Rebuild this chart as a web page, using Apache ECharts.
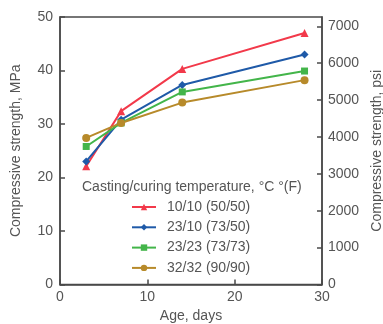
<!DOCTYPE html>
<html><head><meta charset="utf-8">
<script src="https://cdn.jsdelivr.net/npm/echarts@6/dist/echarts.min.js"></script>
<style>html,body{margin:0;padding:0;background:#fff}#c{width:383px;height:324px}</style>
</head><body><div id="c"></div>
<script>
const ages = [3, 7, 14, 28];
const s1010 = [22.1, 32.4, 40.3, 47.0];
const s2310 = [23.0, 30.8, 37.3, 43.0];
const s2323 = [25.8, 30.2, 36.0, 39.9];
const s3232 = [27.4, 30.2, 34.0, 38.2];
const names = ['10/10 (50/50)', '23/10 (73/50)', '23/23 (73/73)', '32/32 (90/90)'];
const colors = ['#f2394a', '#1f5aa8', '#43b54a', '#b78a2a'];
const symbols = ['triangle', 'diamond', 'rect', 'circle'];
const symbolSizes = [8, 8, 7, 8];
const legendTitle = 'Casting/curing temperature, °C °(F)';
const MPA_TO_PSI = 145.0377;

const FONT = 'Liberation Sans, Arial, sans-serif';
const TXT = '#555';
const AX = '#4a4a4a';
const allData = [s1010, s2310, s2323, s3232];

const chart = echarts.init(document.getElementById('c'), null, {renderer: 'canvas'});
chart.setOption({
  animation: false,
  backgroundColor: '#fff',
  textStyle: {fontFamily: FONT},
  grid: {left: 60, right: 61, top: 17, bottom: 39.5, show: true, borderColor: AX, borderWidth: 1.5,
    outerBoundsMode: 'none', containLabel: false},
  xAxis: {
    type: 'value', min: 0, max: 30, interval: 10,
    name: 'Age, days', nameLocation: 'middle', nameGap: 21,
    nameTextStyle: {fontSize: 14, color: TXT, fontFamily: FONT},
    axisLine: {show: true, lineStyle: {color: AX, width: 1.5}},
    axisTick: {show: true, inside: true, length: 5, lineStyle: {color: AX, width: 1.5}},
    axisLabel: {fontSize: 14, color: TXT, margin: 6, fontFamily: FONT},
    splitLine: {show: false}
  },
  yAxis: [{
    type: 'value', min: 0, max: 50, interval: 10, position: 'left',
    name: 'Compressive strength, MPa', nameLocation: 'middle', nameGap: 37,
    nameTextStyle: {fontSize: 14, color: TXT, fontFamily: FONT},
    axisLine: {show: true, lineStyle: {color: AX, width: 1.5}},
    axisTick: {show: true, inside: true, length: 5, lineStyle: {color: AX, width: 1.5}},
    axisLabel: {fontSize: 14, color: TXT, margin: 7, fontFamily: FONT},
    splitLine: {show: false}
  }, {
    type: 'value', min: 0, max: 50 * MPA_TO_PSI, interval: 1000, position: 'right',
    name: 'Compressive strength, psi', nameLocation: 'middle', nameGap: 41, nameRotate: 90,
    nameTextStyle: {fontSize: 14, color: TXT, fontFamily: FONT},
    axisLine: {show: true, lineStyle: {color: AX, width: 1.5}},
    axisTick: {show: true, inside: true, length: 5, lineStyle: {color: AX, width: 1.5}},
    axisLabel: {fontSize: 14, color: TXT, margin: 6, fontFamily: FONT, showMaxLabel: false,
      formatter: v => (Math.abs(v % 1000) < 1e-6 ? String(Math.round(v)) : '')},
    splitLine: {show: false}
  }],
  legend: {
    orient: 'vertical', left: 131, top: 200, padding: 0,
    itemWidth: 24, itemHeight: 8, itemGap: 6.3,
    textStyle: {fontSize: 14, color: TXT, fontFamily: FONT, padding: [0, 0, 0, 6]},
    data: names
  },
  graphic: [{
    type: 'text', left: 82, top: 180,
    style: {text: legendTitle, fontSize: 14, fill: TXT, fontFamily: FONT}
  }],
  series: names.map((n, i) => ({
    name: n, type: 'line', yAxisIndex: 0,
    data: ages.map((a, j) => [a, allData[i][j]]),
    symbol: symbols[i], symbolSize: symbolSizes[i],
    lineStyle: {color: colors[i], width: 2},
    itemStyle: {color: colors[i]}
  }))
});
</script></body></html>
